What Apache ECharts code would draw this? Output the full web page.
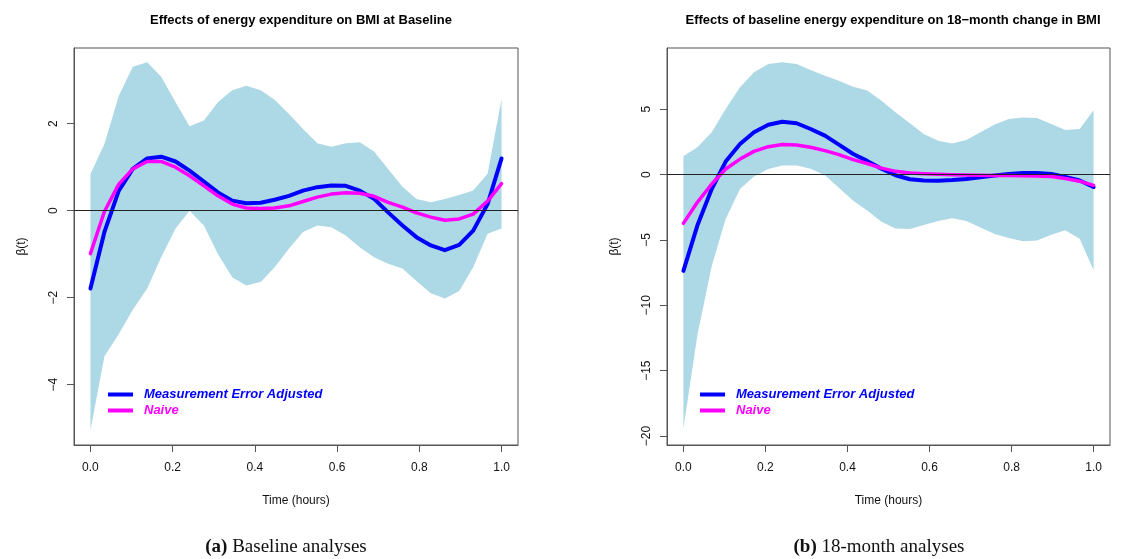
<!DOCTYPE html>
<html>
<head>
<meta charset="utf-8">
<script src="https://cdn.jsdelivr.net/npm/echarts@6/dist/echarts.min.js"></script>
<style>
html,body{margin:0;padding:0;background:#fff;}
#chart{width:1139px;height:559px;}
</style>
</head>
<body>
<div id="chart"></div>
<script>
// Time grid (hours)
const timeGrid = [0, 0.034, 0.069, 0.103, 0.138, 0.172, 0.207, 0.241, 0.276, 0.310, 0.345, 0.379, 0.414, 0.448, 0.483, 0.517, 0.552, 0.586, 0.621, 0.655, 0.690, 0.724, 0.759, 0.793, 0.828, 0.862, 0.897, 0.931, 0.966, 1.0];

// (a) Baseline
const baseUpper = [0.84,1.53,2.64,3.31,3.41,3.08,2.49,1.94,2.07,2.49,2.77,2.87,2.77,2.55,2.22,1.88,1.55,1.47,1.55,1.57,1.36,0.96,0.55,0.27,0.19,0.27,0.36,0.46,0.85,2.57];
const baseLower = [-5.05,-3.35,-2.84,-2.28,-1.79,-1.07,-0.41,0.0,-0.34,-1.0,-1.53,-1.72,-1.64,-1.30,-0.87,-0.49,-0.34,-0.38,-0.57,-0.84,-1.07,-1.22,-1.33,-1.62,-1.90,-2.02,-1.85,-1.30,-0.53,-0.41];
const baseAdjusted = [-1.79,-0.49,0.46,0.96,1.20,1.24,1.13,0.92,0.67,0.42,0.23,0.17,0.18,0.25,0.34,0.46,0.54,0.58,0.57,0.46,0.27,-0.04,-0.34,-0.61,-0.80,-0.91,-0.79,-0.46,0.15,1.20];
const baseNaive = [-0.99,-0.02,0.61,0.96,1.13,1.13,1.00,0.80,0.57,0.34,0.15,0.06,0.05,0.06,0.11,0.21,0.31,0.38,0.41,0.40,0.33,0.19,0.08,-0.05,-0.15,-0.22,-0.19,-0.08,0.22,0.62];

// (b) 18-month
const m18Upper = [1.40,2.09,3.24,5.02,6.68,7.83,8.46,8.59,8.46,8.00,7.57,7.19,6.73,6.43,5.66,4.77,3.93,3.11,2.60,2.39,2.65,3.24,3.83,4.26,4.38,4.33,3.87,3.41,3.50,4.92];
const m18Lower = [-19.43,-12.3,-7.0,-3.4,-1.1,-0.15,0.43,0.69,0.69,0.45,-0.05,-1.0,-2.0,-2.75,-3.6,-4.13,-4.16,-3.85,-3.55,-3.33,-3.55,-4.05,-4.55,-4.85,-5.10,-5.05,-4.6,-4.25,-4.9,-7.32];
const m18Adjusted = [-7.37,-3.9,-1.1,1.0,2.34,3.24,3.82,4.05,3.93,3.49,2.98,2.30,1.58,1.05,0.45,-0.05,-0.35,-0.45,-0.47,-0.42,-0.33,-0.2,-0.07,0.05,0.12,0.12,0.05,-0.18,-0.45,-0.95];
const m18Naive = [-3.73,-2.12,-0.72,0.43,1.19,1.78,2.14,2.30,2.27,2.09,1.84,1.53,1.15,0.85,0.50,0.25,0.12,0.06,0.02,0.0,-0.02,-0.04,-0.06,-0.07,-0.08,-0.1,-0.15,-0.3,-0.5,-0.82];

// Tick labels
const xTicks = [0, 0.2, 0.4, 0.6, 0.8, 1.0];
const baseYTicks = [-4, -2, 0, 2];
const m18YTicks = [-20, -15, -10, -5, 0, 5];

const titles = ['Effects of energy expenditure on BMI at Baseline', 'Effects of baseline energy expenditure on 18\u2212month change in BMI'];
const captions = [['(a)', 'Baseline analyses'], ['(b)', '18-month analyses']];
const seriesNames = ['Measurement Error Adjusted', 'Naive'];

const FONT = '"Liberation Sans", Arial, Helvetica, sans-serif';
const SERIF = '"Liberation Serif", "Times New Roman", serif';
const BAND = '#ADD8E6', BLUE = '#0000FF', MAG = '#FF00FF', FRAME = '#555555';

const pairs = (ys) => timeGrid.map((t, i) => [t, ys[i]]);

function xAxisFor(g) {
  return {
    type: 'value', gridIndex: g, min: -0.04, max: 1.04,
    splitLine: { show: false },
    axisLine: { show: true, onZero: false, lineStyle: { color: FRAME, width: 1 } },
    axisTick: { show: true, customValues: xTicks, length: 7, lineStyle: { color: FRAME } },
    axisLabel: { customValues: xTicks, formatter: v => v.toFixed(1), margin: 17, fontSize: 12, color: '#111', fontFamily: FONT },
    name: 'Time (hours)', nameLocation: 'middle', nameGap: 50,
    nameTextStyle: { fontSize: 12, color: '#111', fontFamily: FONT }
  };
}
function yAxisFor(g, min, max, ticks) {
  return {
    type: 'value', gridIndex: g, min: min, max: max,
    splitLine: { show: false },
    axisLine: { show: true, onZero: false, lineStyle: { color: FRAME, width: 1 } },
    axisTick: { show: true, customValues: ticks, length: 7, lineStyle: { color: FRAME } },
    axisLabel: { customValues: ticks, rotate: 90, formatter: v => String(v).replace('-', '\u2212'), margin: 14, fontSize: 12, color: '#111', fontFamily: FONT },
    name: '\u03B2(t)', nameLocation: 'middle', nameGap: 46,
    nameTextStyle: { fontSize: 12, color: '#111', fontFamily: FONT }
  };
}
function bandSeries(g, lower, upper) {
  return {
    type: 'custom', xAxisIndex: g, yAxisIndex: g, name: 'band' + g, silent: true, z: 1,
    data: timeGrid.map((t, i) => [t, lower[i], upper[i]]),
    encode: { x: 0, y: [1, 2] },
    renderItem: function (params, api) {
      if (params.dataIndex !== 0) return null;
      const pts = [];
      for (let i = 0; i < timeGrid.length; i++) pts.push(api.coord([timeGrid[i], upper[i]]));
      for (let i = timeGrid.length - 1; i >= 0; i--) pts.push(api.coord([timeGrid[i], lower[i]]));
      return { type: 'polygon', shape: { points: pts }, style: { fill: BAND, stroke: null } };
    }
  };
}
function panelSeries(g, lower, upper, adj, naive) {
  return [
    bandSeries(g, lower, upper),
    { type: 'line', xAxisIndex: g, yAxisIndex: g, name: 'zero' + g, data: [], silent: true, z: 2,
      markLine: { silent: true, symbol: 'none', label: { show: false }, animation: false,
        lineStyle: { color: '#222', width: 1, type: 'solid' }, data: [{ yAxis: 0 }] } },
    { type: 'line', xAxisIndex: g, yAxisIndex: g, name: seriesNames[0], data: pairs(adj), symbol: 'none',
      lineStyle: { color: BLUE, width: 4, join: 'round', cap: 'round' }, itemStyle: { color: BLUE }, z: 3 },
    { type: 'line', xAxisIndex: g, yAxisIndex: g, name: seriesNames[1], data: pairs(naive), symbol: 'none',
      lineStyle: { color: MAG, width: 3.5, join: 'round', cap: 'round' }, itemStyle: { color: MAG }, z: 4 }
  ];
}
function legendFor(left) {
  return {
    orient: 'vertical', left: left, top: 383, itemWidth: 25, itemHeight: 4, itemGap: 3, icon: 'rect',
    selectedMode: false,
    textStyle: { fontSize: 13, fontWeight: 'bold', fontStyle: 'italic', fontFamily: FONT, padding: [0, 0, 0, 6] },
    data: [
      { name: seriesNames[0], itemStyle: { color: BLUE }, textStyle: { color: BLUE } },
      { name: seriesNames[1], itemStyle: { color: MAG }, textStyle: { color: MAG } }
    ]
  };
}

const option = {
  animation: false,
  backgroundColor: '#fff',
  title: [
    { text: titles[0], left: 296, top: 9, textAlign: 'center', textStyle: { fontSize: 13, fontWeight: 'bold', color: '#000', fontFamily: FONT } },
    { text: titles[1], left: 888, top: 9, textAlign: 'center', textStyle: { fontSize: 13, fontWeight: 'bold', color: '#000', fontFamily: FONT } },
    { text: '{b|' + captions[0][0] + '} ' + captions[0][1], left: 281, top: 533, textAlign: 'center',
      textStyle: { fontSize: 19, fontWeight: 'normal', color: '#111', fontFamily: SERIF,
        rich: { b: { fontSize: 19, fontWeight: 'bold', fontFamily: SERIF, color: '#111' } } } },
    { text: '{b|' + captions[1][0] + '} ' + captions[1][1], left: 874, top: 533, textAlign: 'center',
      textStyle: { fontSize: 19, fontWeight: 'normal', color: '#111', fontFamily: SERIF,
        rich: { b: { fontSize: 19, fontWeight: 'bold', fontFamily: SERIF, color: '#111' } } } }
  ],
  legend: [legendFor(103), legendFor(695)],
  grid: [
    { left: 74, top: 48, width: 444, height: 397, show: true, borderColor: FRAME, borderWidth: 1, backgroundColor: 'transparent' },
    { left: 667, top: 48, width: 443, height: 397, show: true, borderColor: FRAME, borderWidth: 1, backgroundColor: 'transparent' }
  ],
  xAxis: [xAxisFor(0), xAxisFor(1)],
  yAxis: [yAxisFor(0, -5.39, 3.74, baseYTicks), yAxisFor(1, -20.69, 9.69, m18YTicks)],
  series: [].concat(
    panelSeries(0, baseLower, baseUpper, baseAdjusted, baseNaive),
    panelSeries(1, m18Lower, m18Upper, m18Adjusted, m18Naive)
  )
};

const chart = echarts.init(document.getElementById('chart'), null, { renderer: 'canvas' });
chart.setOption(option);
</script>
</body>
</html>
